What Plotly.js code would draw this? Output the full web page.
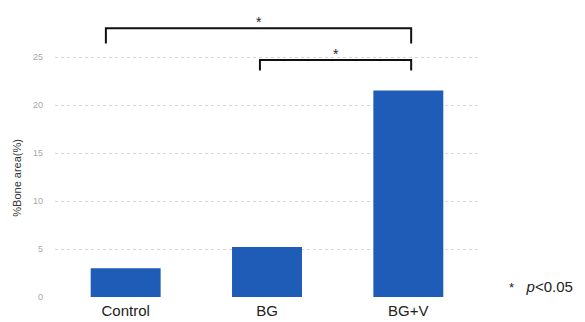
<!DOCTYPE html>
<html><head><meta charset="utf-8">
<script src="https://cdn.plot.ly/plotly-3.0.1.min.js"></script>
<style>html,body{margin:0;padding:0;background:#fff}#c{width:585px;height:322px}</style>
</head><body><div id="c"></div>
<script>
const categories = ["Control", "BG", "BG+V"];
const boneArea = [3.0, 5.2, 21.5];
const yTicks = [0, 5, 10, 15, 20, 25];
// significance brackets: [from category index, to category index, bracket top y, leg bottom y]
const brackets = [[0, 2, 28.0, 26.4], [1, 2, 24.7, 23.6]];
const bracketOffsets = [[-0.14, 0.02], [-0.05, 0.02]];

const shapes = [];
const annotations = [];
brackets.forEach((b, i) => {
  const x0 = b[0] + bracketOffsets[i][0], x1 = b[1] + bracketOffsets[i][1];
  shapes.push({type: "path", xref: "x", yref: "y",
    path: `M ${x0},${b[3]} L ${x0},${b[2]} L ${x1},${b[2]} L ${x1},${b[3]}`,
    line: {color: "#111", width: 2}});
  annotations.push({xref: "x", yref: "y", x: (x0 + x1) / 2, y: b[2], yshift: 6,
    text: "*", showarrow: false, font: {size: 14, color: "#222", family: "Liberation Sans, Arial"}});
});
annotations.push({xref: "paper", yref: "paper", x: -0.108, y: 0.415, text: "%Bone area(%)",
  textangle: -90, showarrow: false, font: {size: 11, color: "#333", family: "Liberation Sans, Arial"}});
annotations.push({xref: "paper", yref: "paper", x: 1.065, y: 0.035, xanchor: "left", yanchor: "middle",
  text: "<span style='font-size:13px'>*</span>&nbsp;&nbsp;&nbsp;<i>p</i><0.05", showarrow: false,
  font: {size: 15, color: "#222", family: "Liberation Sans, Arial"}});

Plotly.newPlot("c", [{
  type: "bar", x: categories, y: boneArea,
  marker: {color: "#1e5cb8"}, width: 0.495, hoverinfo: "none"
}], {
  width: 585, height: 322,
  margin: {l: 55, r: 106, t: 9, b: 25},
  paper_bgcolor: "#fff", plot_bgcolor: "#fff",
  showlegend: false,
  xaxis: {range: [-0.5, 2.5], showgrid: false, zeroline: false, showline: false,
    ticks: "", ticklabelstandoff: 3,
    tickfont: {size: 15, color: "#222", family: "Liberation Sans, Arial"}},
  yaxis: {range: [0, 30], tickvals: yTicks, ticktext: yTicks.map(String),
    showgrid: true, gridcolor: "#d6d6d6", griddash: "dot", gridwidth: 1,
    zeroline: false, showline: false, ticks: "", ticklabelstandoff: 11,
    tickfont: {size: 9, color: "#a8a8a8", family: "Liberation Sans, Arial"}},
  shapes: shapes, annotations: annotations
}, {staticPlot: true});
</script></body></html>
